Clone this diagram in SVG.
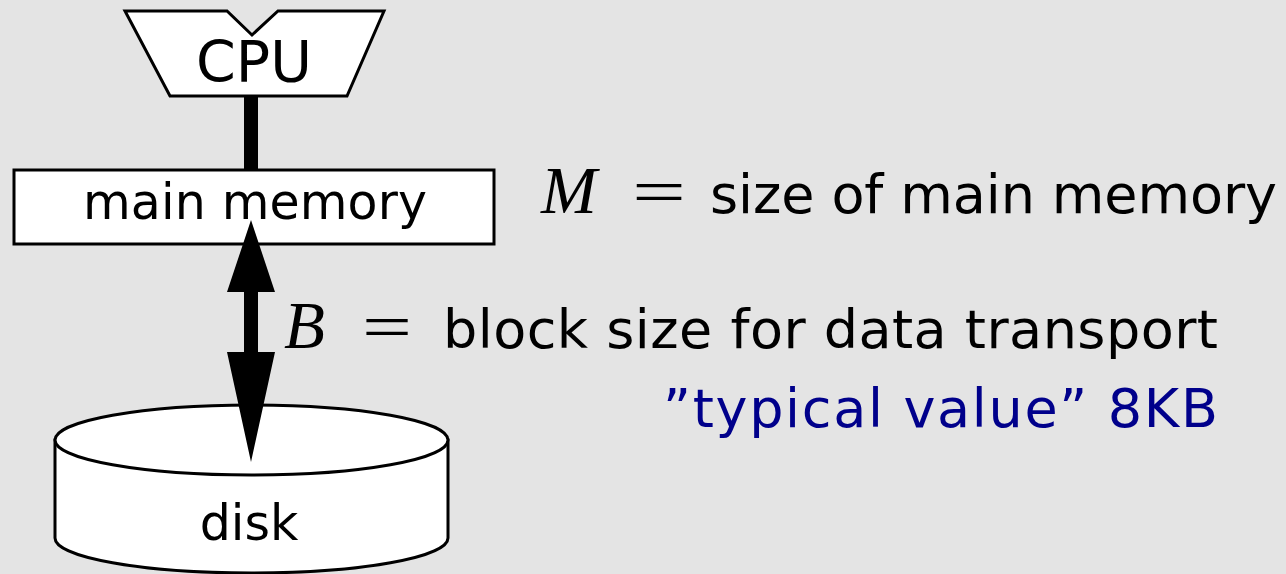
<svg xmlns="http://www.w3.org/2000/svg" width="1286" height="574" viewBox="0 0 1286 574">
<style>
.shape{fill:#fff;stroke:#000;stroke-width:3}
.lbl{font-family:"DejaVu Sans",sans-serif;fill:#000;text-anchor:middle}
.txt{font-family:"DejaVu Sans",sans-serif;font-size:54px;fill:#000}
.math{font-family:"Liberation Serif",serif;font-style:italic;font-size:67px;fill:#000}
.eq{font-family:"Liberation Serif",serif;font-size:64px;fill:#000}
.blue{fill:#00008b}
</style>
<rect width="1286" height="574" fill="#e4e4e4"/>
<g id="cpu">
<path class="shape" d="M125,11 L227,11 L252,35 L278,11 L384,11 L347,96 L170,96 Z"/>
<text class="lbl" x="254" y="82" font-size="57">CPU</text>
</g>
<g id="memory">
<rect class="shape" x="14" y="170" width="480" height="74"/>
<text class="lbl" x="255" y="219" font-size="49" textLength="344" lengthAdjust="spacing">main memory</text>
</g>
<g id="disk">
<path class="shape" d="M55,440 L55,538 A196.5,35 0 0 0 448,538 L448,440 Z"/>
<ellipse class="shape" cx="251.5" cy="440" rx="196.5" ry="35"/>
<text class="lbl" x="249" y="540" font-size="49">disk</text>
</g>
<g id="connectors">
<rect x="244" y="96" width="14" height="74" fill="#000"/>
<path d="M251,220 L275,292 L258,292 L258,352 L275,352 L251,462 L227,352 L244,352 L244,292 L227,292 Z" fill="#000"/>
</g>
<g id="labels">
<text class="math" x="541" y="213">M</text>
<text class="eq" x="632" y="213" textLength="54" lengthAdjust="spacingAndGlyphs">=</text>
<text class="txt" x="710" y="213" textLength="567" lengthAdjust="spacing">size of main memory</text>
<text class="math" x="284" y="348">B</text>
<text class="eq" x="362" y="348" textLength="50" lengthAdjust="spacingAndGlyphs">=</text>
<text class="txt" x="443" y="348" textLength="775" lengthAdjust="spacing">block size for data transport</text>
<text class="txt blue" x="663" y="427" textLength="555" lengthAdjust="spacing">”typical value” 8KB</text>
</g>
</svg>
